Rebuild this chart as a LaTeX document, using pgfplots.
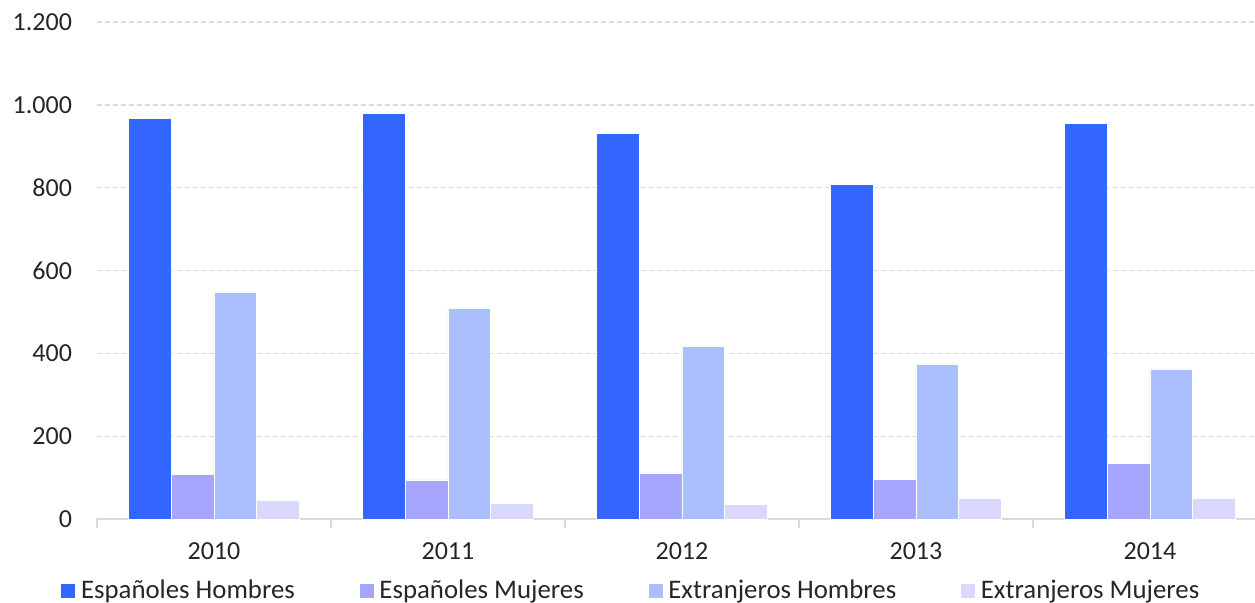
\documentclass[border=0pt]{standalone}
\usepackage{pgfplots}
\pgfplotsset{compat=1.18}
\usepackage{fontspec}
\setmainfont{Carlito}
\definecolor{cEH}{HTML}{3366FF}
\definecolor{cEM}{HTML}{A6A6FF}
\definecolor{cXH}{HTML}{ABBFFF}
\definecolor{cXM}{HTML}{D9D9FF}
\definecolor{gridc}{HTML}{D9D9D9}
\definecolor{txt}{HTML}{262626}
\begin{document}
\begin{tikzpicture}
\begin{axis}[
  name=ax, at={(0,0)}, anchor=south west,
  scale only axis, width=579pt, height=248.65pt,
  xmin=-0.5, xmax=4.449, ymin=0, ymax=1200,
  ybar=0pt, bar width=21.35pt,
  axis x line*=bottom, axis y line*=left,
  y axis line style={draw=none},
  x axis line style={gridc, line width=1pt},
  xtick={0,1,2,3,4},
  xticklabels={2010,2011,2012,2013,2014},
  minor xtick={-0.5,0.5,1.5,2.5,3.5},
  major tick length=0pt,
  minor tick length=4.5pt,
  tick align=outside,
  minor tick style={gridc, line width=1pt},
  ytick={0,200,...,1200},
  ymajorgrids,
  grid style={gridc, line width=0.65pt, dash pattern=on 2.5pt off 1.5pt},
  /pgf/number format/assume math mode=true,
  /pgf/number format/1000 sep={.},
  tick label style={font=\fontsize{13}{15}\selectfont, text=txt},
  yticklabel style={xshift=-9pt},
  xticklabel style={yshift=-8pt},
  legend columns=4,
  legend style={at={(-0.0371,-0.143)}, anchor=west, draw=none, fill=none,
    font=\fontsize{13.4}{15}\selectfont, text=txt,
    /tikz/every even column/.append style={column sep=29.5pt},
    nodes={inner xsep=2.5pt}},
  legend image code/.code={\fill[#1] (0pt,-3.75pt) rectangle (7.5pt,3.75pt);},
]
\addplot[fill=cEH, draw=white, line width=0.3pt] coordinates {(0,968) (1,979) (2,931) (3,809) (4,955)};
\addplot[fill=cEM, draw=white, line width=0.3pt] coordinates {(0,109) (1,95) (2,111) (3,97) (4,135)};
\addplot[fill=cXH, draw=white, line width=0.3pt] coordinates {(0,548) (1,509) (2,417) (3,375) (4,363)};
\addplot[fill=cXM, draw=white, line width=0.3pt] coordinates {(0,47) (1,38) (2,36) (3,51) (4,51)};
\legend{Españoles Hombres, Españoles Mujeres, Extranjeros Hombres, Extranjeros Mujeres}
\end{axis}
\pgfresetboundingbox
\path (-48.5pt,-41.85pt) rectangle (579pt,259.65pt);
\end{tikzpicture}
\end{document}
